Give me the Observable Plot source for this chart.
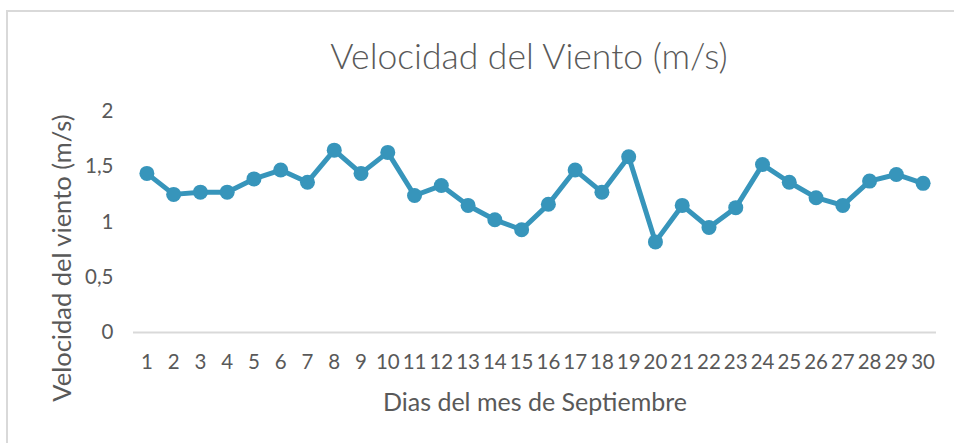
<!DOCTYPE html>
<html>
<head>
<meta charset="utf-8">
<script src="https://cdn.jsdelivr.net/npm/d3@7"></script>
<script src="https://cdn.jsdelivr.net/npm/@observablehq/plot@0.6"></script>
<style>
  html, body { margin: 0; padding: 0; background: #fff; }
  #wrap { position: relative; width: 954px; height: 443px; overflow: hidden; background: #fff; font-family: Lato, "Open Sans", sans-serif; }
  #border { position: absolute; left: 6px; top: 10px; width: 1000px; height: 500px; border-top: 2px solid #d9d9d9; border-left: 2px solid #d9d9d9; box-sizing: border-box; }
  #title { position: relative; height: 90px; width: 954px; box-sizing: border-box; padding-left: 104px; padding-top: 14px; text-align: center; font-size: 35.5px; color: #595959; line-height: 84px; font-weight: 300; }
  #chart { position: relative; }
</style>
</head>
<body>
<div id="wrap">
  <div id="border"></div>
  <div id="title">Velocidad del Viento (m/s)</div>
  <div id="chart"></div>
</div>
<script>
const days = [1,2,3,4,5,6,7,8,9,10,11,12,13,14,15,16,17,18,19,20,21,22,23,24,25,26,27,28,29,30];
const speeds = [1.44,1.25,1.27,1.27,1.39,1.47,1.36,1.65,1.44,1.63,1.24,1.33,1.15,1.02,0.93,1.16,1.47,1.27,1.59,0.82,1.15,0.95,1.13,1.52,1.36,1.22,1.15,1.37,1.43,1.35];
const yTicks = [0, 0.5, 1, 1.5, 2];
const yLabel = "Velocidad del viento (m/s)";
const xLabel = "Dias del mes de Septiembre";

const data = days.map((d, i) => ({day: d, speed: speeds[i]}));
const color = "#3795bb";

const chart = Plot.plot({
  width: 954,
  height: 353,
  marginLeft: 133,
  marginRight: 18,
  marginTop: 21,
  marginBottom: 111,
  style: {fontFamily: "Lato, 'Open Sans', sans-serif", fontSize: "20.5px", color: "#595959", background: "transparent", overflow: "visible"},
  x: {type: "linear", domain: [0.5, days.length + 0.5]},
  y: {domain: [0, 2]},
  marks: [
    Plot.axisY({ticks: yTicks, tickSize: 0, tickPadding: 20, tickFormat: d => String(d).replace(".", ","), label: null}),
    Plot.axisX({ticks: days, tickSize: 0, tickPadding: 22, tickFormat: d => String(d), label: null}),
    Plot.ruleY([0], {stroke: "#d9d9d9", strokeWidth: 2}),
    Plot.line(data, {x: "day", y: "speed", stroke: color, strokeWidth: 5}),
    Plot.dot(data, {x: "day", y: "speed", r: 7.5, fill: color}),
    Plot.text([yLabel], {frameAnchor: "left", textAnchor: "middle", dx: -71, dy: 36, rotate: -90, fontSize: 25.5, fill: "#595959"}),
    Plot.text([xLabel], {frameAnchor: "bottom", dy: 78, fontSize: 25, fill: "#595959"})
  ]
});
document.getElementById("chart").appendChild(chart);
</script>
</body>
</html>
